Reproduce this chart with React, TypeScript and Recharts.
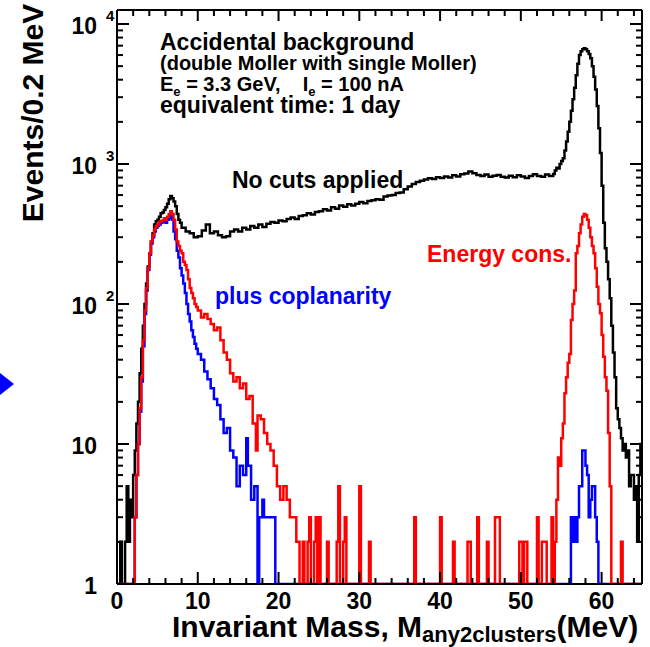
import React from 'react';
import { LineChart, Line, XAxis, YAxis } from 'recharts';

type Bin = [number, number]; // [bin low edge (MeV), events]

const blackCounts: Bin[] = [
  [0, 0], [0.4, 2], [0.6, 0], [1.0, 2], [1.2, 5], [1.4, 2], [1.6, 4], [1.8, 3], [2.0, 6], [2.2, 9], [2.4, 14], [2.6, 20],
  [2.8, 32], [3.0, 48], [3.2, 70], [3.4, 100], [3.6, 140], [3.8, 185], [4.0, 230], [4.2, 280], [4.4, 320], [4.6, 370],
  [4.8, 390], [5.0, 400], [5.2, 420], [5.4, 445], [5.6, 450], [5.8, 470], [6.0, 490], [6.2, 520], [6.4, 560], [6.6, 590],
  [6.8, 570], [7.0, 540], [7.2, 500], [7.4, 440], [7.6, 400], [7.8, 380], [8.0, 350], [8.5, 330], [9.0, 320], [9.5, 300],
  [10.0, 305], [10.5, 335], [11.0, 370], [11.5, 320], [12.0, 330], [12.5, 310], [13.0, 300], [13.5, 305], [14.0, 330],
  [14.5, 340], [15.0, 330], [15.5, 350], [16.0, 340], [16.5, 360], [17.0, 350], [17.5, 370], [18.0, 355], [18.5, 375],
  [19.0, 385], [19.5, 380], [20.0, 395], [20.5, 390], [21.0, 405], [21.5, 415], [22.0, 405], [22.5, 425], [23.0, 430],
  [23.5, 445], [24.0, 435], [24.5, 455], [25.0, 460], [25.5, 475], [26.0, 465], [26.5, 490], [27.0, 480], [27.5, 505],
  [28.0, 495], [28.5, 515], [29.0, 505], [29.5, 520], [30.0, 535], [30.5, 525], [31.0, 545], [31.5, 550], [32.0, 560],
  [32.5, 555], [33.0, 585], [33.5, 595], [34.0, 600], [34.5, 620], [35.0, 625], [35.5, 660], [36.0, 690], [36.5, 720],
  [37.0, 745], [37.5, 760], [38.0, 775], [38.5, 790], [39.0, 780], [39.5, 805], [40.0, 795], [40.5, 815], [41.0, 800],
  [41.5, 830], [42.0, 815], [42.5, 845], [43.0, 855], [43.5, 885], [44.0, 860], [44.5, 835], [45.0, 820], [45.5, 840],
  [46.0, 810], [46.5, 825], [47.0, 835], [47.5, 810], [48.0, 800], [48.5, 825], [49.0, 805], [49.5, 830], [50.0, 815],
  [50.5, 795], [51.0, 820], [51.5, 845], [52.0, 820], [52.5, 810], [53.0, 840], [53.5, 820], [54.0, 850], [54.2, 900],
  [54.4, 940], [54.6, 930], [54.8, 1000], [55.0, 1050], [55.2, 1100], [55.4, 1250], [55.6, 1450], [55.8, 1700],
  [56.0, 2000], [56.2, 2400], [56.4, 2900], [56.6, 3500], [56.8, 4300], [57.0, 5200], [57.2, 6000], [57.4, 6400],
  [57.6, 6600], [57.8, 6700], [58.0, 6600], [58.2, 6400], [58.4, 6100], [58.6, 5700], [58.8, 5000], [59.0, 4200],
  [59.2, 3400], [59.4, 2600], [59.6, 1800], [59.8, 1200], [60.0, 700], [60.2, 380], [60.4, 250], [60.6, 200],
  [60.8, 150], [61.0, 110], [61.2, 70], [61.4, 45], [61.6, 30], [61.8, 18], [62.0, 15], [62.2, 13], [62.4, 11],
  [62.6, 9], [62.8, 10], [63.0, 8], [63.2, 9], [63.4, 5], [63.6, 6], [63.8, 6], [64.0, 4], [64.2, 5], [64.4, 2],
  [64.6, 6], [64.8, 10],
];

const redCounts: Bin[] = [
  [0, 0], [2.2, 3], [2.4, 6], [2.6, 10], [2.8, 18], [3.0, 30], [3.2, 55], [3.4, 90], [3.6, 130], [3.8, 180], [4.0, 230],
  [4.2, 280], [4.4, 310], [4.6, 340], [4.8, 360], [5.0, 370], [5.2, 385], [5.4, 390], [5.6, 395], [5.8, 410], [6.0, 400],
  [6.2, 420], [6.4, 440], [6.6, 460], [6.8, 440], [7.0, 400], [7.2, 340], [7.4, 280], [7.6, 260], [7.8, 240], [8.0, 230],
  [8.2, 200], [8.4, 190], [8.6, 175], [8.8, 150], [9.0, 130], [9.2, 120], [9.4, 110], [9.6, 100], [9.8, 95], [10.0, 90],
  [10.4, 80], [10.8, 85], [11.2, 78], [11.6, 72], [12.0, 65], [12.4, 68], [12.8, 55], [13.2, 45], [13.6, 40], [14.0, 32],
  [14.4, 28], [14.8, 30], [15.2, 25], [15.6, 27], [16.0, 21], [16.4, 22], [16.8, 14], [17.2, 9], [17.4, 16], [17.8, 15],
  [18.2, 12], [18.6, 10], [19.0, 9], [19.4, 7], [19.8, 5], [20.2, 4], [20.6, 5], [21.0, 4], [21.4, 3], [21.8, 3],
  [22.2, 2], [22.6, 0], [23.0, 2], [23.2, 0], [23.6, 2], [23.8, 3], [24.0, 0], [24.4, 2], [24.6, 3], [24.8, 0],
  [25.0, 3], [25.2, 0], [26.0, 2], [26.2, 0], [27.2, 2], [27.4, 5], [27.6, 0], [28.0, 2], [28.2, 3], [28.4, 0],
  [30.0, 5], [30.2, 0], [31.2, 2], [31.4, 0], [36.8, 3], [37.0, 0], [40.0, 3], [40.2, 0], [41.6, 2], [41.8, 0],
  [43.4, 2], [43.8, 0], [44.6, 3], [44.8, 0], [45.8, 2], [46.0, 0], [46.8, 3], [47.4, 0], [49.8, 2], [50.2, 1],
  [50.4, 2], [50.8, 0], [52.0, 3], [52.2, 0], [52.6, 2], [53.2, 0], [53.8, 3], [54.0, 0], [54.2, 2], [54.4, 4],
  [54.6, 8], [54.8, 7], [55.0, 11], [55.2, 14], [55.4, 23], [55.6, 30], [55.8, 38], [56.0, 44], [56.2, 77], [56.4, 100],
  [56.6, 125], [56.8, 230], [57.0, 260], [57.2, 320], [57.4, 370], [57.6, 420], [57.8, 440], [58.0, 430], [58.2, 400],
  [58.4, 350], [58.6, 300], [58.8, 260], [59.0, 230], [59.2, 180], [59.4, 133], [59.6, 100], [59.8, 86], [60.0, 60],
  [60.2, 42], [60.4, 30], [60.6, 24], [60.8, 12], [61.0, 5], [61.2, 0], [62.4, 2], [62.6, 0],
];

const blueCounts: Bin[] = [
  [0, 0], [2.2, 3], [2.4, 6], [2.6, 10], [2.8, 17], [3.0, 28], [3.2, 50], [3.4, 85], [3.6, 125], [3.8, 175], [4.0, 225],
  [4.2, 270], [4.4, 300], [4.6, 330], [4.8, 350], [5.0, 360], [5.2, 370], [5.4, 380], [5.6, 385], [5.8, 390], [6.0, 380],
  [6.2, 400], [6.4, 410], [6.6, 430], [6.8, 400], [7.0, 330], [7.2, 290], [7.4, 240], [7.6, 215], [7.8, 180], [8.0, 160],
  [8.2, 140], [8.4, 120], [8.6, 100], [8.8, 85], [9.0, 75], [9.2, 65], [9.4, 58], [9.6, 52], [9.8, 48], [10.0, 44],
  [10.4, 40], [10.8, 33], [11.2, 29], [11.6, 25], [12.0, 21], [12.4, 19], [12.8, 15], [13.2, 12], [13.6, 13], [14.0, 9],
  [14.4, 8], [14.8, 5], [15.2, 7], [15.6, 6], [16.0, 11], [16.2, 7], [16.6, 4], [17.0, 5], [17.4, 0], [17.6, 3],
  [18.0, 4], [18.2, 3], [19.6, 0], [56.2, 3], [56.4, 2], [56.6, 3], [56.8, 2], [57.0, 3], [57.2, 5], [57.6, 9],
  [58.0, 7], [58.2, 6], [58.4, 3], [58.6, 4], [58.8, 5], [59.2, 3], [59.4, 2], [59.6, 0],
];

const X_MAX = 65;
const Y_MIN = 1;
const Y_MAX = 12589;
const xTicks = [0, 2, 4, 6, 8, 10, 12, 14, 16, 18, 20, 22, 24, 26, 28, 30, 32, 34, 36, 38, 40, 42, 44, 46, 48, 50, 52, 54, 56, 58, 60, 62, 64];
const xMajorTicks = [0, 10, 20, 30, 40, 50, 60];
const yDecades = [1, 10, 100, 1000, 10000];
const yDecadeBase = ['1', '10', '10', '10', '10'];
const yDecadeExp = ['', '', '2', '3', '4'];

const PL = 117;
const PR = 642;
const PT = 10;
const PB = 584;
const FONT = '"Liberation Sans", Arial, Helvetica, sans-serif';
const NB = '\u00A0';

const yTicks: number[] = [];
yDecades.forEach((d) => {
  for (let m = 1; m <= 9; m++) {
    const v = m * d;
    if (v <= Y_MAX) yTicks.push(v);
  }
});

function toRows(bins: Bin[]) {
  const rows = bins.map(([x, c]) => ({ x, y: Math.max(c, Y_MIN) }));
  rows.push({ x: X_MAX, y: rows[rows.length - 1].y });
  return rows;
}

const blackRows = toRows(blackCounts);
const redRows = toRows(redCounts);
const blueRows = toRows(blueCounts);

const BottomTick = (props: any) => {
  const { x, payload } = props;
  const v = payload.value;
  const major = xMajorTicks.includes(v);
  return (
    <g>
      <line x1={x} x2={x} y1={PB} y2={PB - (major ? 12 : 6)} stroke="#000" strokeWidth={2} />
      {major && (
        <text x={x} y={609} textAnchor="middle" fontFamily={FONT} fontWeight="bold" fontSize={23} fill="#000">
          {v}
        </text>
      )}
    </g>
  );
};

const TopTick = (props: any) => {
  const { x, payload } = props;
  const major = xMajorTicks.includes(payload.value);
  return <line x1={x} x2={x} y1={PT} y2={PT + (major ? 11 : 6)} stroke="#000" strokeWidth={2} />;
};

const LeftTick = (props: any) => {
  const { y, payload } = props;
  const v = payload.value;
  const idx = yDecades.indexOf(v);
  const major = idx >= 0;
  return (
    <g>
      <line x1={PL} x2={PL + (major ? 12 : 6)} y1={y} y2={y} stroke="#000" strokeWidth={2} />
      {major && (
        <text x={97} y={y + 10} textAnchor="end" fontFamily={FONT} fontWeight="bold" fontSize={23} fill="#000">
          {yDecadeBase[idx]}
        </text>
      )}
      {major && yDecadeExp[idx] && (
        <text x={106} y={y - 3} textAnchor="start" fontFamily={FONT} fontWeight="bold" fontSize={15} fill="#000">
          {yDecadeExp[idx]}
        </text>
      )}
    </g>
  );
};

const RightTick = (props: any) => {
  const { y, payload } = props;
  const major = yDecades.includes(payload.value);
  return <line x1={PR} x2={PR - (major ? 12 : 6)} y1={y} y2={y} stroke="#000" strokeWidth={2} />;
};

const axisLine = { stroke: '#000', strokeWidth: 2 };

export default function App() {
  return (
    <div style={{ position: 'absolute', left: 0, top: 0, width: 650, height: 647, background: '#fff' }}>
      <LineChart width={650} height={647} margin={{ top: 0, right: 0, bottom: 0, left: 0 }}>
        <XAxis
          dataKey="x"
          type="number"
          domain={[0, X_MAX]}
          allowDataOverflow
          ticks={xTicks}
          interval={0}
          height={647 - PB}
          tick={<BottomTick />}
          tickLine={false}
          tickSize={0}
          tickMargin={0}
          axisLine={axisLine}
        />
        <XAxis
          xAxisId="top"
          orientation="top"
          dataKey="x"
          type="number"
          domain={[0, X_MAX]}
          allowDataOverflow
          ticks={xTicks}
          interval={0}
          height={PT}
          tick={<TopTick />}
          tickLine={false}
          tickSize={0}
          tickMargin={0}
          axisLine={axisLine}
        />
        <YAxis
          type="number"
          scale="log"
          domain={[Y_MIN, Y_MAX]}
          allowDataOverflow
          ticks={yTicks}
          interval={0}
          width={PL}
          tick={<LeftTick />}
          tickLine={false}
          tickSize={0}
          tickMargin={0}
          axisLine={axisLine}
        />
        <YAxis
          yAxisId="right"
          orientation="right"
          type="number"
          scale="log"
          domain={[Y_MIN, Y_MAX]}
          allowDataOverflow
          ticks={yTicks}
          interval={0}
          width={650 - PR}
          tick={<RightTick />}
          tickLine={false}
          tickSize={0}
          tickMargin={0}
          axisLine={axisLine}
        />
        <Line data={blackRows} dataKey="y" type="stepAfter" stroke="#000000" strokeWidth={2.5} dot={false} activeDot={false} isAnimationActive={false} />
        <Line data={blueRows} dataKey="y" type="stepAfter" stroke="#0000ff" strokeWidth={2.5} dot={false} activeDot={false} isAnimationActive={false} />
        <Line data={redRows} dataKey="y" type="stepAfter" stroke="#ff0000" strokeWidth={2.5} dot={false} activeDot={false} isAnimationActive={false} />
      </LineChart>
      <svg width={650} height={647} style={{ position: 'absolute', left: 0, top: 0, pointerEvents: 'none' }}>
        <g fontFamily={FONT} fontWeight="bold" fill="#000">
          <text x={160} y={50} fontSize={23}>Accidental background</text>
          <text x={160} y={70} fontSize={20}>(double Moller with single Moller)</text>
          <text x={160} y={91} fontSize={20}>
            E<tspan fontSize={13} dy={5}>e</tspan>
            <tspan dy={-5}>{`${NB}=${NB}3.3${NB}GeV,${NB}${NB}${NB}${NB}I`}</tspan>
            <tspan fontSize={13} dy={5}>e</tspan>
            <tspan dy={-5}>{`${NB}=${NB}100${NB}nA`}</tspan>
          </text>
          <text x={160} y={113} fontSize={23}>equivalent time: 1 day</text>
          <text x={232} y={188} fontSize={23}>No cuts applied</text>
          <text x={215} y={304} fontSize={23} fill="#0000ff">plus coplanarity</text>
          <text x={427} y={262} fontSize={23} fill="#ff0000">Energy cons.</text>
          <text transform="translate(43,113) rotate(-90)" textAnchor="middle" fontSize={30}>Events/0.2 MeV</text>
          <text x={172} y={637} fontSize={30}>
            Invariant Mass, M<tspan fontSize={22} dy={5}>any2clusters</tspan>
            <tspan dy={-5}>(MeV)</tspan>
          </text>
        </g>
        <polygon points="0,373 14,384 0,395" fill="#0000ff" />
      </svg>
    </div>
  );
}
